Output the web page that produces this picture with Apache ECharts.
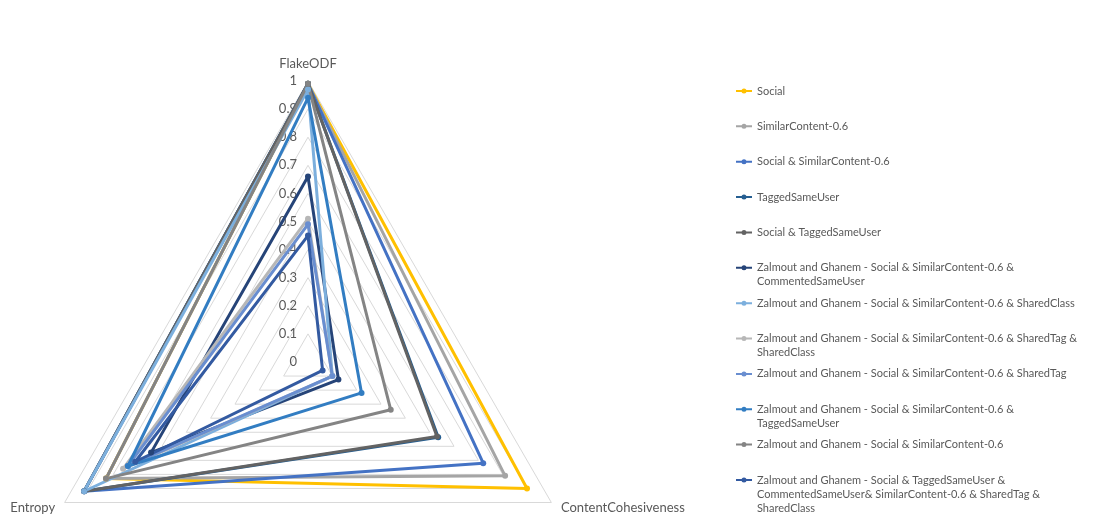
<!DOCTYPE html>
<html>
<head>
<meta charset="utf-8">
<script src="https://cdn.jsdelivr.net/npm/echarts@6/dist/echarts.min.js"></script>
<style>
  html, body { margin: 0; padding: 0; background: #ffffff; }
  #chart { width: 1099px; height: 520px; }
</style>
</head>
<body>
<div id="chart"></div>
<script>
// Radar axes, listed in ECharts order (counter-clockwise from the top)
const indicators = ['FlakeODF', 'Entropy', 'ContentCohesiveness'];

const seriesNames = [
  'Social',
  'SimilarContent-0.6',
  'Social & SimilarContent-0.6',
  'TaggedSameUser',
  'Social & TaggedSameUser',
  'Zalmout and Ghanem - Social & SimilarContent-0.6 & CommentedSameUser',
  'Zalmout and Ghanem - Social & SimilarContent-0.6 & SharedClass',
  'Zalmout and Ghanem - Social & SimilarContent-0.6 & SharedTag & SharedClass',
  'Zalmout and Ghanem - Social & SimilarContent-0.6 & SharedTag',
  'Zalmout and Ghanem - Social & SimilarContent-0.6 & TaggedSameUser',
  'Zalmout and Ghanem - Social & SimilarContent-0.6',
  'Zalmout and Ghanem - Social & TaggedSameUser & CommentedSameUser& SimilarContent-0.6 & SharedTag & SharedClass'
];

// Legend text, wrapped the way it is laid out beside the chart
const legendLabels = [
  'Social',
  'SimilarContent-0.6',
  'Social & SimilarContent-0.6',
  'TaggedSameUser',
  'Social & TaggedSameUser',
  'Zalmout and Ghanem - Social & SimilarContent-0.6 &\nCommentedSameUser',
  'Zalmout and Ghanem - Social & SimilarContent-0.6 & SharedClass',
  'Zalmout and Ghanem - Social & SimilarContent-0.6 & SharedTag &\nSharedClass',
  'Zalmout and Ghanem - Social & SimilarContent-0.6 & SharedTag',
  'Zalmout and Ghanem - Social & SimilarContent-0.6 &\nTaggedSameUser',
  'Zalmout and Ghanem - Social & SimilarContent-0.6',
  'Zalmout and Ghanem - Social & TaggedSameUser &\nCommentedSameUser& SimilarContent-0.6 & SharedTag &\nSharedClass'
];

const seriesColors = [
  '#FFC000', '#A5A5A5', '#4472C4', '#255E91', '#636363', '#264478',
  '#7CAFDD', '#B7B7B7', '#698ED0', '#327DC2', '#848484', '#335AA1'
];

// Scores per measure, one entry per series
const flakeODF            = [0.99, 0.99, 0.99, 0.99, 0.99, 0.66, 0.97, 0.51, 0.49, 0.94, 0.99, 0.45];
const entropy             = [0.83, 0.83, 0.92, 0.92, 0.92, 0.645, 0.92, 0.76, 0.74, 0.74, 0.83, 0.71];
const contentCohesiveness = [0.90, 0.81, 0.72, 0.535, 0.53, 0.125, 0.10, 0.10, 0.10, 0.22, 0.34, 0.06];

// Value scale shared by every axis
const scaleMin = 0;
const scaleMax = 1;
const scaleStep = 0.1;

// Layout
const CX = 308, CY = 362, R = 281;
const TEXT = '#595959';
const FONT = 'Lato, "Open Sans", sans-serif';
const LEGEND_LEFT = 736, LEGEND_FIRST = 91, LEGEND_STEP = 35.36, LINE_H = 14, ICON_H = 5;

const chart = echarts.init(document.getElementById('chart'), null, { renderer: 'canvas' });

const legendIcon = 'path://M0,2L16,2L16,4L0,4Z M5.5,3A2.5,2.5,0,1,1,10.5,3A2.5,2.5,0,1,1,5.5,3Z';

// One legend block per entry so that every entry starts on the same pitch.
// The text block is centred on the icon, so blank lines are put in front of a
// wrapped label to keep its first line level with the icon.
const legends = seriesNames.map((name, i) => {
  const lines = legendLabels[i].split('\n').length;
  const blockLines = 2 * lines - 1;
  const text = '\n'.repeat(lines - 1) + legendLabels[i];
  return {
    orient: 'vertical',
    left: LEGEND_LEFT,
    top: LEGEND_FIRST + i * LEGEND_STEP - blockLines * LINE_H / 2,
    padding: 0,
    itemWidth: 16,
    itemHeight: ICON_H,
    icon: legendIcon,
    selectedMode: false,
    itemStyle: { borderWidth: 0 },
    formatter: () => text,
    textStyle: { color: TEXT, fontSize: 11, fontFamily: FONT, lineHeight: LINE_H },
    data: [name]
  };
});

const series = seriesNames.map((name, i) => ({
  type: 'radar',
  name: name,
  symbol: 'circle',
  symbolSize: 6,
  lineStyle: { width: 3, color: seriesColors[i] },
  itemStyle: { color: seriesColors[i] },
  emphasis: { disabled: true },
  data: [{ name: name, value: [flakeODF[i], entropy[i], contentCohesiveness[i]] }]
}));

chart.setOption({
  animation: false,
  backgroundColor: '#ffffff',
  color: seriesColors,
  legend: legends,
  radar: {
    center: [CX, CY],
    radius: R,
    startAngle: 90,
    shape: 'polygon',
    splitNumber: Math.round((scaleMax - scaleMin) / scaleStep),
    nameGap: 11,
    axisName: { color: TEXT, fontSize: 13, fontFamily: FONT },
    indicator: indicators.map(n => ({ name: n, min: scaleMin, max: scaleMax })),
    splitLine: { lineStyle: { color: '#D9D9D9', width: 1 } },
    splitArea: { show: false },
    axisLine: { show: false },
    axisTick: { show: false },
    axisLabel: { show: false }
  },
  // value labels along the FlakeODF spoke
  grid: { left: CX, top: CY - R, height: R, width: 1, containLabel: false },
  xAxis: { type: 'value', show: false },
  yAxis: {
    type: 'value',
    min: scaleMin,
    max: scaleMax,
    interval: scaleStep,
    axisLine: { show: false },
    axisTick: { show: false },
    splitLine: { show: false },
    axisLabel: { color: TEXT, fontSize: 13, fontFamily: FONT, margin: 11 }
  },
  series: series
});
</script>
</body>
</html>
